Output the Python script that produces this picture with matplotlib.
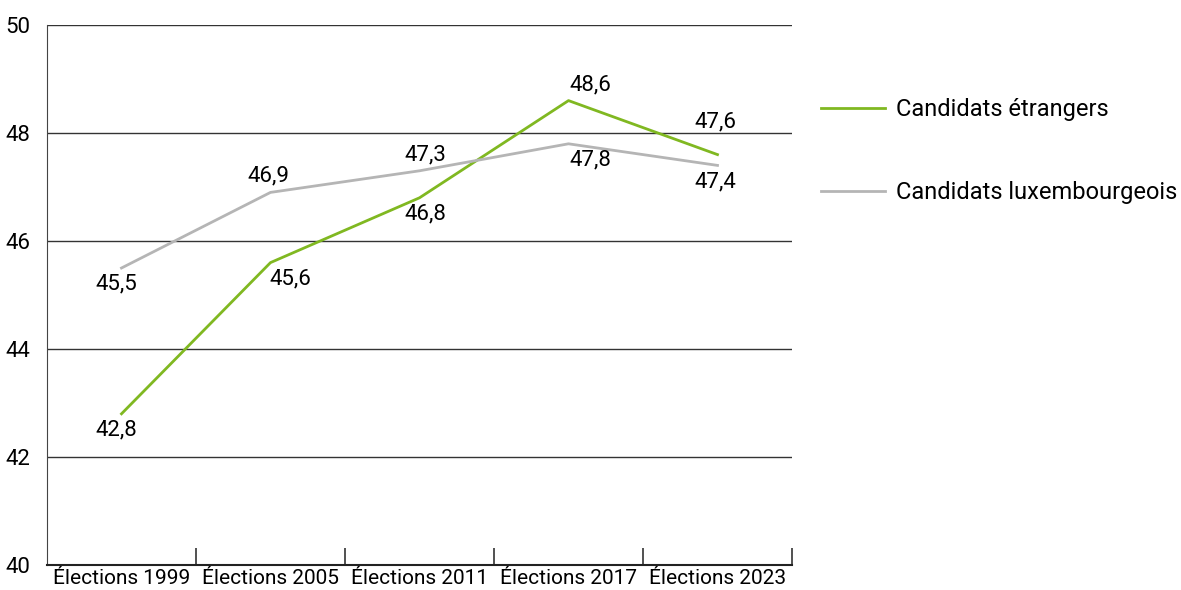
import numpy as np
import matplotlib.pyplot as plt

plt.rcParams['font.family'] = ['Roboto', 'DejaVu Sans']

# data
elections = ['Élections 1999', 'Élections 2005', 'Élections 2011', 'Élections 2017', 'Élections 2023']
etrangers = [42.8, 45.6, 46.8, 48.6, 47.6]
luxembourgeois = [45.5, 46.9, 47.3, 47.8, 47.4]

# label placement: (x offset px, y offset pt; negative = below)
etr_pos = [(-5, -4), (20, -4), (6, -4), (22, 4), (-2, 16)]
lux_pos = [(-5, -4), (-2, 4), (6, 4), (22, -4), (-2, -4)]

green = '#80b821'
grey = '#b5b5b5'

fig = plt.figure(figsize=(11.81, 5.90), dpi=100)
ax = fig.add_axes([47/1181, 25/590, 745/1181, 540/590])

x = np.arange(len(elections))
ax.plot(x, etrangers, color=green, lw=2, label='Candidats étrangers')
ax.plot(x, luxembourgeois, color=grey, lw=2, label='Candidats luxembourgeois')

def annotate(vals, pos):
    for xi, v, (dx, dy) in zip(x, vals, pos):
        va = 'bottom' if dy > 0 else 'top'
        ax.annotate(f'{v:.1f}'.replace('.', ','), (xi, v), xytext=(dx * 0.72, dy),
                    textcoords='offset points', ha='center', va=va, fontsize=16)

annotate(etrangers, etr_pos)
annotate(luxembourgeois, lux_pos)

ax.set_xlim(-0.5, len(elections) - 0.5)
ax.set_ylim(40, 50)
ax.set_yticks([40, 42, 44, 46, 48, 50])
for y in [42, 44, 46, 48, 50]:
    ax.axhline(y, color='#333333', lw=1, zorder=0)

ax.set_xticks(x)
ax.set_xticklabels(elections)
ax.set_xticks(np.arange(len(elections)) + 0.5, minor=True)
ax.tick_params(axis='x', which='major', length=0, labelsize=15, pad=3)
ax.tick_params(axis='x', which='minor', length=12, direction='in', color='#333333', width=1.2)
ax.tick_params(axis='y', length=0, labelsize=16, pad=12)

ax.spines['top'].set_visible(False)
ax.spines['right'].set_visible(False)
ax.spines['left'].set_color('#444444')
ax.spines['bottom'].set_color('#222222')
ax.spines['bottom'].set_linewidth(1.5)

fig.legend(loc='upper left', bbox_to_anchor=(800/1181, 1 - 77/590), frameon=False,
           fontsize=17, handlelength=2.7, handletextpad=0.45, labelspacing=2.55)

fig.savefig('out.png', dpi=100)
